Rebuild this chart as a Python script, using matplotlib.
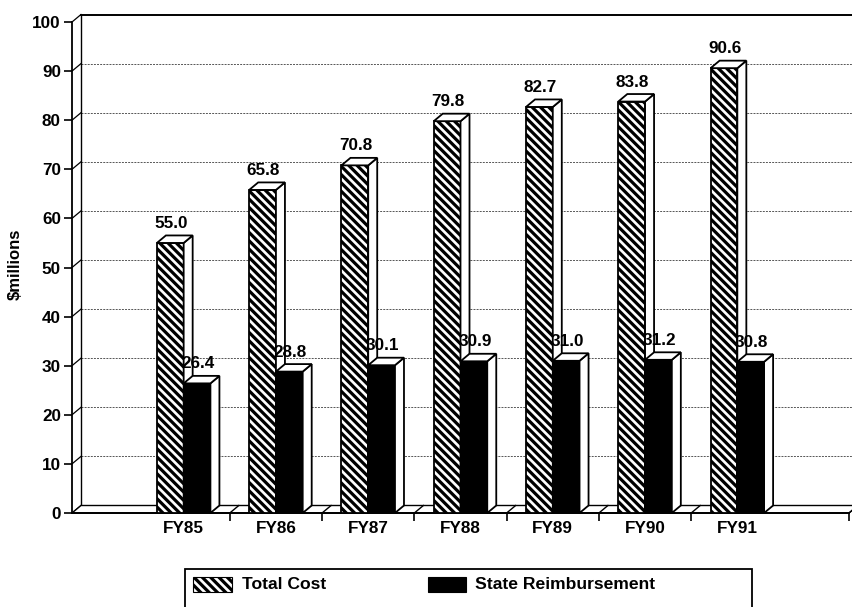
import matplotlib
matplotlib.use('Agg')
import matplotlib.pyplot as plt
from matplotlib.patches import Polygon, Rectangle
import numpy as np

# ---- data ----
categories = ['FY85', 'FY86', 'FY87', 'FY88', 'FY89', 'FY90', 'FY91']
total_cost = [55.0, 65.8, 70.8, 79.8, 82.7, 83.8, 90.6]
state_reimb = [26.4, 28.8, 30.1, 30.9, 31.0, 31.2, 30.8]
series_names = ['Total Cost', 'State Reimbursement']
y_ticks = list(range(0, 101, 10))
y_label = '$millions'

plt.rcParams['font.family'] = ['Liberation Sans', 'DejaVu Sans']
plt.rcParams['font.weight'] = 'bold'
plt.rcParams['hatch.linewidth'] = 2.3
HATCH = '\\\\\\\\'

W_PX, H_PX = 852, 607
fig = plt.figure(figsize=(W_PX / 100, H_PX / 100), dpi=100)
L, R, B, T = 72, 849, 513, 22  # front plane box in pixels
ax = fig.add_axes([L / W_PX, (H_PX - B) / H_PX, (R - L) / W_PX, (B - T) / H_PX])

n = len(categories)
x = np.arange(n)
xmin, xmax = -1.21, n - 1 + 1.21
ax.set_xlim(xmin, xmax)
ax.set_ylim(0, 100)
px_x = (R - L) / (xmax - xmin)
px_y = (B - T) / 100.0
DX = 9 / px_x
DY = 7.5 / px_y
BW = 0.29
LW = 1.3
FS = 12.3

# ---- back wall, left wall, floor ----
for v in y_ticks[1:-1]:
    ax.plot([xmin + DX, xmax + DX + 1], [v + DY, v + DY], linestyle=(0, (2, 1.2)),
            lw=0.7, color='#555555', clip_on=False, zorder=1)
ax.plot([xmin + DX, xmax + DX + 1], [100 + DY, 100 + DY], color='black', lw=1.4,
        clip_on=False, zorder=1)
ax.plot([xmin + DX, xmin + DX], [DY, 100 + DY], color='black', lw=1.0, clip_on=False, zorder=1)
for v in y_ticks:
    ax.plot([xmin, xmin + DX], [v, v + DY], color='black', lw=0.9, clip_on=False, zorder=1)

floor = Polygon([(xmin, 0), (xmax, 0), (xmax + DX, DY), (xmin + DX, DY)], closed=True,
                facecolor='white', edgecolor='black', lw=1.0, clip_on=False, zorder=2)
ax.add_patch(floor)
bounds = list(x[:-1] + 0.5) + [xmax]
for b in bounds:
    ax.plot([b, b + DX], [0, DY], color='black', lw=1.0, clip_on=False, zorder=2.1)

# ---- bars ----
tc_bars = ax.bar(x - BW / 2, total_cost, BW, facecolor='white', edgecolor='black',
                 hatch=HATCH, linewidth=LW)
sr_bars = ax.bar(x + BW / 2, state_reimb, BW, facecolor='black', edgecolor='black',
                 linewidth=LW)


def faces(rect, z):
    x0 = rect.get_x()
    x1 = x0 + rect.get_width()
    h = rect.get_height()
    rect.set_zorder(z)
    side = Polygon([(x1, 0), (x1 + DX, DY), (x1 + DX, h + DY), (x1, h)], closed=True,
                   facecolor='white', edgecolor='black', lw=LW, zorder=z + 0.1, clip_on=False)
    top = Polygon([(x0, h), (x1, h), (x1 + DX, h + DY), (x0 + DX, h + DY)], closed=True,
                  facecolor='white', edgecolor='black', lw=LW, zorder=z + 0.2, clip_on=False)
    ax.add_patch(side)
    ax.add_patch(top)


for i in range(n):
    faces(tc_bars[i], 3 + i)
    faces(sr_bars[i], 3.5 + i)

lab_off = 7.5 / px_y
for i in range(n):
    for rect in (tc_bars[i], sr_bars[i]):
        h = rect.get_height()
        ax.text(rect.get_x() + rect.get_width() / 2 + 0.01, h + DY + lab_off, f'{h:.1f}',
                ha='center', va='baseline', fontsize=FS, fontweight='bold', zorder=50)

# ---- axes styling ----
for s in ('top', 'right'):
    ax.spines[s].set_visible(False)
ax.spines['left'].set_linewidth(1.3)
ax.spines['bottom'].set_linewidth(1.4)
ax.spines['left'].set_zorder(2.5)
ax.spines['bottom'].set_zorder(2.5)
ax.set_yticks(y_ticks)
ax.tick_params(axis='y', length=6, width=1.2, pad=2, labelsize=FS)
ax.set_xticks(x, categories)
ax.tick_params(axis='x', which='major', length=0, pad=6, labelsize=FS)
ax.set_xticks(bounds, minor=True)
ax.tick_params(axis='x', which='minor', length=6, width=1.2, direction='out')
ax.set_ylabel(y_label, fontsize=12, fontweight='bold')
ax.yaxis.set_label_coords((23 - L) / (R - L), (B - 264) / (B - T))
ax.patch.set_alpha(0)

# ---- legend box ----
def fx(px):
    return px / W_PX


def fy(py):
    return (H_PX - py) / H_PX


fig.patches.append(Rectangle((fx(185), fy(615)), fx(752) - fx(185), fy(569) - fy(615),
                             transform=fig.transFigure, facecolor='white', edgecolor='black',
                             lw=1.3, zorder=1))
fig.patches.append(Rectangle((fx(193), fy(592)), fx(232) - fx(193), fy(577) - fy(592),
                             transform=fig.transFigure, facecolor='white', edgecolor='black',
                             hatch=HATCH, lw=0.8, zorder=2))
fig.patches.append(Rectangle((fx(428), fy(592)), fx(466) - fx(428), fy(577) - fy(592),
                             transform=fig.transFigure, facecolor='black', edgecolor='black',
                             lw=0.8, zorder=2))
fig.text(fx(242), fy(584.5), series_names[0], ha='left', va='center', fontsize=12.6,
         fontweight='bold')
fig.text(fx(475), fy(584.5), series_names[1], ha='left', va='center', fontsize=12.6,
         fontweight='bold')

fig.savefig('out.png', dpi=100)
